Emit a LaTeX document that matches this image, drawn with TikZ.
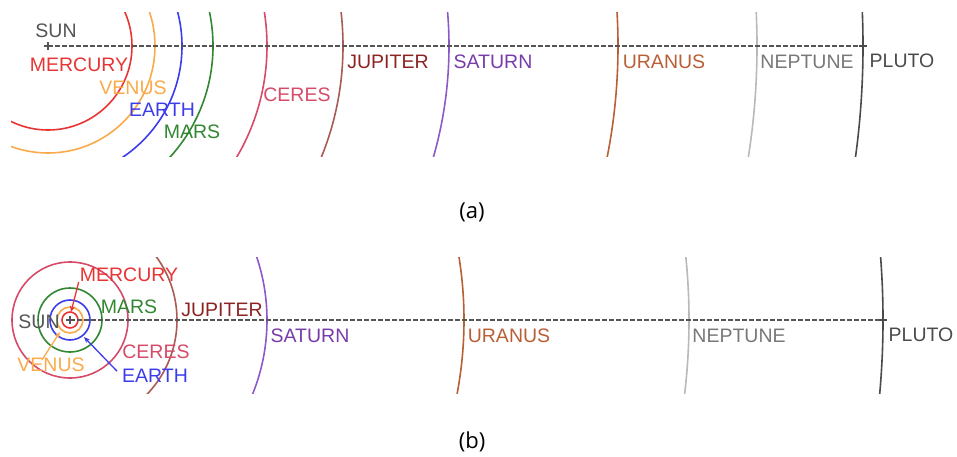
\documentclass[tikz,border=0pt]{standalone}
\usepackage{fontspec}
\setmainfont{Liberation Sans}
\newfontfamily\capfont{Open Sans}
\usetikzlibrary{arrows.meta}
\definecolor{sungray}{RGB}{85,85,85}
\definecolor{mercred}{RGB}{232,52,52}
\definecolor{venusor}{RGB}{250,170,75}
\definecolor{earthbl}{RGB}{60,60,235}
\definecolor{marsgr}{RGB}{50,135,50}
\definecolor{ceresc}{RGB}{215,75,105}
\definecolor{jupl}{RGB}{140,35,35}
\definecolor{jupa}{RGB}{170,90,85}
\definecolor{satc}{RGB}{120,60,170}
\definecolor{sata}{RGB}{140,90,200}
\definecolor{uranc}{RGB}{185,95,55}
\definecolor{nepa}{RGB}{185,185,185}
\definecolor{nepl}{RGB}{120,120,120}
\definecolor{plutc}{RGB}{75,75,75}
\tikzset{
  lbl/.style={inner sep=0pt, font=\fontsize{19.5}{19.5}\selectfont},
  orbit/.style={line width=1.6pt},
  axis/.style={line width=1.3pt, sungray, dash pattern=on 4.5pt off 2.5pt},
  ptr/.style={line width=1.3pt, -{Stealth[length=6pt,width=5pt]}},
  captext/.style={inner sep=0pt, font=\capfont\fontsize{22}{22}\selectfont}
}
\begin{document}
\begin{tikzpicture}[x=1pt,y=-1pt]
\useasboundingbox (0,0) rectangle (957,457);
% ---------------- panel (a)
\coordinate (suna) at (48,46);
\coordinate (plua) at (863,46);
\begin{scope}
\clip (11,13) rectangle (957,157);
\draw[orbit,mercred] (suna) circle[radius=84pt];
\draw[orbit,venusor] (suna) circle[radius=107pt];
\draw[orbit,earthbl] (suna) circle[radius=134pt];
\draw[orbit,marsgr] (suna) circle[radius=165pt];
\draw[orbit,ceresc] (suna) circle[radius=219pt];
\draw[orbit,jupa] (suna) circle[radius=295pt];
\draw[orbit,sata] (suna) circle[radius=401pt];
\draw[orbit,uranc] (suna) circle[radius=570pt];
\draw[orbit,nepa] (suna) circle[radius=709pt];
\draw[orbit,plutc] (suna) circle[radius=815pt];
\end{scope}
\draw[axis] (suna) -- (plua);
\draw[line width=1.2pt,sungray] ([xshift=-4pt]suna) -- ([xshift=4pt]suna) ([yshift=-4pt]suna) -- ([yshift=4pt]suna);
\draw[line width=1.2pt,plutc] ([xshift=-4pt]plua) -- ([xshift=4pt]plua);
\node[lbl,sungray] (lsuna) at (56,31) {SUN};
\node[lbl,mercred] (lmera) at (79,65) {MERCURY};
\node[lbl,venusor] (lvena) at (133,88) {VENUS};
\node[lbl,earthbl] (leara) at (162,110) {EARTH};
\node[lbl,marsgr] (lmara) at (192,132) {MARS};
\node[lbl,ceresc] (lcera) at (297,95) {CERES};
\node[lbl,jupl] (ljupa) at (388,62) {JUPITER};
\node[lbl,satc] (lsata) at (493,62) {SATURN};
\node[lbl,uranc] (lura) at (664,62) {URANUS};
\node[lbl,nepl] (lnepa) at (807,62) {NEPTUNE};
\node[lbl,plutc] (lplua) at (902,61) {PLUTO};
\node[captext] (capa) at (472,212) {(a)};
% ---------------- panel (b)
\coordinate (sunb) at (70,320);
\coordinate (plub) at (883,320);
\draw[orbit,mercred] (sunb) circle[radius=8pt];
\draw[orbit,venusor] (sunb) circle[radius=13pt];
\draw[orbit,earthbl] (sunb) circle[radius=20pt];
\draw[orbit,marsgr] (sunb) circle[radius=32pt];
\draw[orbit,ceresc] (sunb) circle[radius=58pt];
\begin{scope}
\clip (0,257) rectangle (957,393);
\draw[orbit,jupa] (sunb) circle[radius=107pt];
\draw[orbit,sata] (sunb) circle[radius=197pt];
\draw[orbit,uranc] (sunb) circle[radius=394pt];
\draw[orbit,nepa] (sunb) circle[radius=619pt];
\draw[orbit,plutc] (sunb) circle[radius=813pt];
\end{scope}
\draw[axis] (sunb) -- (plub);
\draw[line width=1.2pt,sungray] ([xshift=-4pt]sunb) -- ([xshift=4pt]sunb) ([yshift=-4pt]sunb) -- ([yshift=4pt]sunb);
\draw[line width=1.2pt,plutc] ([xshift=-4pt]plub) -- ([xshift=4pt]plub);
\node[lbl,sungray] (lsunb) at (39,322) {SUN};
\node[lbl,mercred] (lmerb) at (129,275) {MERCURY};
\node[lbl,marsgr] (lmarb) at (129,307) {MARS};
\node[lbl,jupl] (ljupb) at (222,310) {JUPITER};
\node[lbl,satc] (lsatb) at (310,336) {SATURN};
\node[lbl,ceresc] (lcerb) at (156,352) {CERES};
\node[lbl,earthbl] (learb) at (155,376) {EARTH};
\node[lbl,venusor] (lvenb) at (51,365) {VENUS};
\node[lbl,uranc] (lurb) at (509,336) {URANUS};
\node[lbl,nepl] (lnepb) at (739,336) {NEPTUNE};
\node[lbl,plutc] (lplub) at (921,335) {PLUTO};
\coordinate (mert) at (71,312);
\coordinate (vent) at (60,332);
\coordinate (eart) at (84,337);
\draw[ptr,mercred] ([xshift=-1pt]lmerb.south west) -- (mert);
\draw[ptr,venusor] ([xshift=-9pt,yshift=-2pt]lvenb.north) -- (vent);
\draw[ptr,earthbl] ([xshift=-5pt,yshift=-2pt]learb.north west) -- (eart);
\node[captext] (capb) at (472,442) {(b)};
\end{tikzpicture}
\end{document}
